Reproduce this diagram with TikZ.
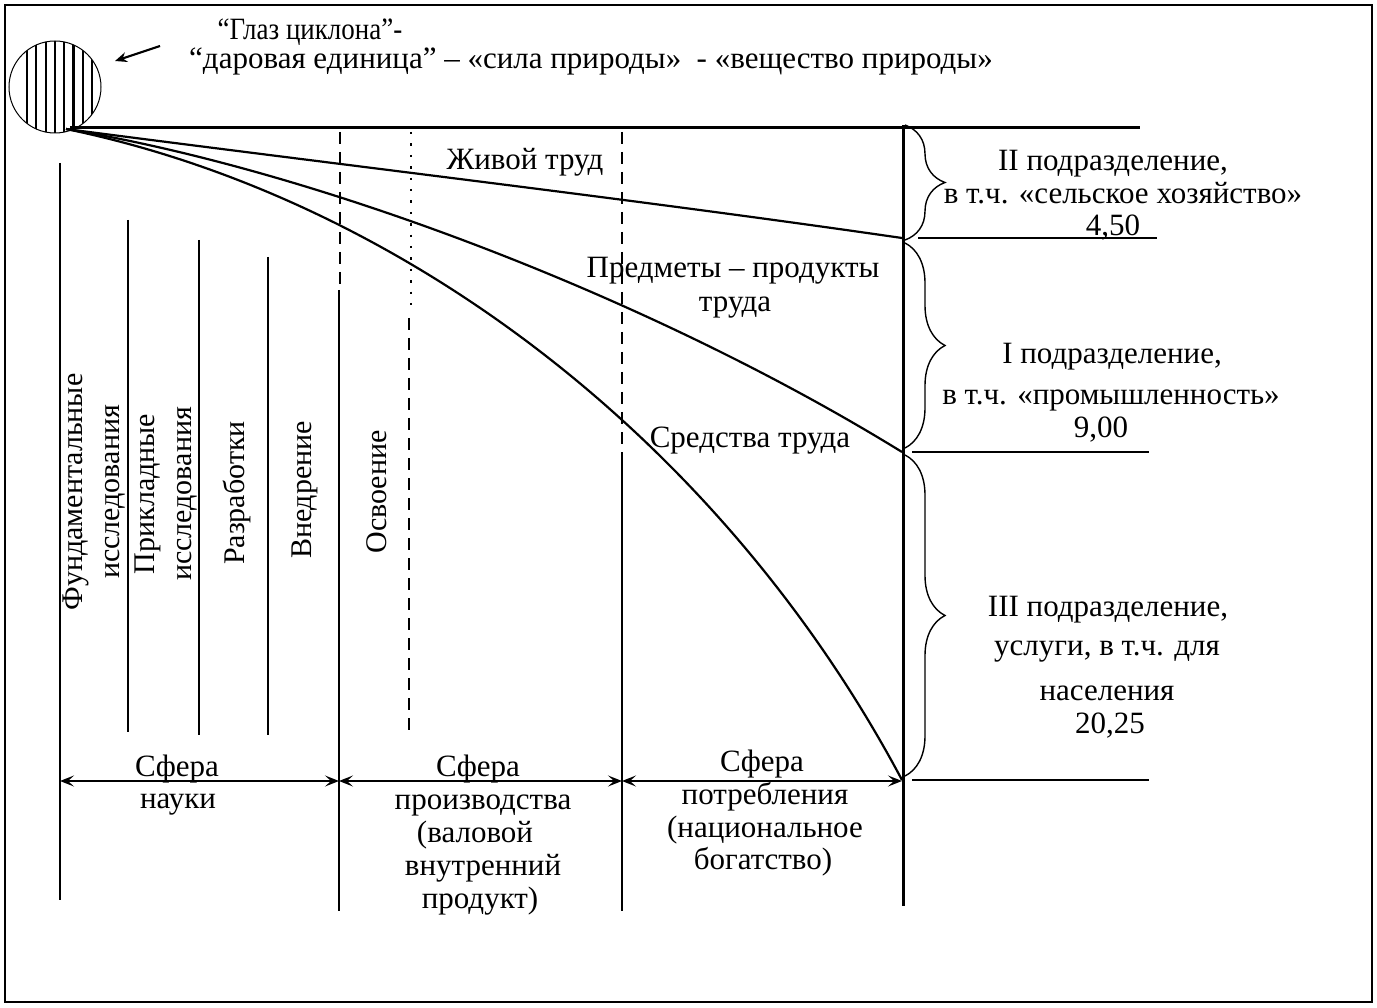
\documentclass[tikz,border=0pt]{standalone}
\usepackage{fontspec}
\setmainfont{Liberation Serif}
\newfontfamily\tnr{Liberation Serif}
\usetikzlibrary{arrows.meta,decorations.pathreplacing}
\begin{document}
\begin{tikzpicture}[x=1pt,y=-1pt,
  txt/.style={font=\tnr\fontsize{31}{36}\selectfont, inner sep=0pt, anchor=base},
  vtxt/.style={font=\tnr\fontsize{30}{37}\selectfont, inner sep=0pt, align=center, rotate=90},
  ln/.style={line width=1.8pt},
  heavy/.style={line width=3pt},
  crv/.style={line width=2.2pt, line join=round},
  dsh/.style={line width=1.8pt, dash pattern=on 12pt off 8pt},
  dtd/.style={line width=2.4pt, dash pattern=on 2.4pt off 9pt},
  dimarrow/.style={line width=1.8pt, {Stealth[length=14pt,width=11pt,inset=6pt]}-{Stealth[length=14pt,width=11pt,inset=6pt]}},
  brc/.style={line width=1.4pt, decorate, decoration={brace, amplitude=40pt, aspect=0.5}},
]
\useasboundingbox (0,0) rectangle (1377,1008);
\draw[line width=2pt] (5,5) rectangle (1372,1002);

% eye of the cyclone
\node[circle, draw, line width=1pt, minimum size=92pt, inner sep=0pt] (eye) at (55,87) {};
\begin{scope}
  \clip (55,87) circle[radius=46];
  \foreach \hx in {27,36.3,45.6,54.9,64.2,73.5,82.8,92.1}
    \draw[line width=2.2pt] (\hx,30) -- (\hx,140);
\end{scope}
\coordinate (ptrS) at (160,46);
\coordinate (ptrE) at (115,61);
\draw[line width=2.2pt, -{Stealth[length=12pt,width=10pt]}] (ptrS) -- (ptrE);

\node[txt, xscale=0.87] (h1) at (310,40) {“Глаз циклона”-};
\node[txt] (h2) at (591,69) {“даровая единица” – «сила природы»\ \ - «вещество природы»};

% origin and main horizontal
\coordinate (O) at (66,129);
\coordinate (topR) at (1140,128);
\draw[heavy] (70,128) -- (topR);

% vertical separators
\draw[ln] (60,163) -- (60,900);
\draw[ln] (128,220) -- (128,732);
\draw[ln] (199,240) -- (199,735);
\draw[ln] (268,257) -- (268,735);
\draw[dsh] (340,132) -- (340,285);
\draw[ln] (339,290) -- (339,911);
\draw[dtd] (411,132) -- (411,312);
\draw[dsh] (409,318) -- (409,735);
\draw[dsh] (622,132) -- (622,453);
\draw[ln] (622,453) -- (622,911);
\draw[heavy] (903,125) -- (903,906);

% curves
\coordinate (eL) at (902,238);
\coordinate (eP) at (902,452);
\coordinate (eS) at (902,780);
\draw[crv] (O) .. controls (350,166) and (640,200) .. (eL);
\draw[crv] (O) .. controls (316,170) and (652,298) .. (eP);
\draw[crv] (O) .. controls (400,198) and (720,438) .. (eS);

% right horizontals
\draw[ln] (918,238) -- (1157,238);
\draw[ln] (912,452) -- (1149,452);
\draw[ln] (912,780) -- (1149,780);

% braces
\draw[brc] (905,125) -- (905,240);
\draw[brc] (905,243) -- (905,448);
\draw[brc] (905,455) -- (905,776);

% curve labels
\node[txt] (lz) at (525,170) {Живой труд};
\node[txt] (lp1) at (733,278) {Предметы – продукты};
\node[txt] (lp2) at (735,312) {труда};
\node[txt] (ls) at (750,447) {Средства труда};

% right labels
\node[txt] (r1a) at (1113,171) {II подразделение,};
\node[txt] (r1b) at (1123,204) {в т.ч. «сельское хозяйство»};
\node[txt] (r1c) at (1113,236) {4,50};
\node[txt] (r2a) at (1112,364) {I подразделение,};
\node[txt] (r2b) at (1111,404) {в т.ч. «промышленность»};
\node[txt] (r2c) at (1101,437) {9,00};
\node[txt] (r3a) at (1108,616) {III подразделение,};
\node[txt] (r3b) at (1107,655) {услуги, в т.ч. для};
\node[txt] (r3c) at (1107,700) {населения};
\node[txt] (r3d) at (1110,733) {20,25};

% rotated labels
\node[vtxt] (v1) at (94,492) {Фундаментальные\\исследования};
\node[vtxt] (v2) at (166,494) {Прикладные\\исследования};
\node[vtxt] (v3) at (237,493) {Разработки};
\node[vtxt] (v4) at (305,490) {Внедрение};
\node[vtxt] (v5) at (377,492) {Освоение};

% bottom arrows
\coordinate (a0) at (60,781);
\coordinate (a1) at (339,781);
\coordinate (a2) at (622,781);
\coordinate (a3) at (902,781);
\draw[dimarrow] (a0) -- (a1);
\draw[dimarrow] (a1) -- (a2);
\draw[dimarrow] (a2) -- (a3);

% bottom labels
\node[txt] (s1a) at (177,776) {Сфера};
\node[txt] (s1b) at (178,808) {науки};
\node[txt] (s2a) at (478,776) {Сфера};
\node[txt] (s2b) at (483,809) {производства};
\node[txt] (s2c) at (475,842) {(валовой};
\node[txt] (s2d) at (483,875) {внутренний};
\node[txt] (s2e) at (480,908) {продукт)};
\node[txt] (s3a) at (762,771) {Сфера};
\node[txt] (s3b) at (765,804) {потребления};
\node[txt] (s3c) at (765,837) {(национальное};
\node[txt] (s3d) at (763,869) {богатство)};
\end{tikzpicture}
\end{document}
